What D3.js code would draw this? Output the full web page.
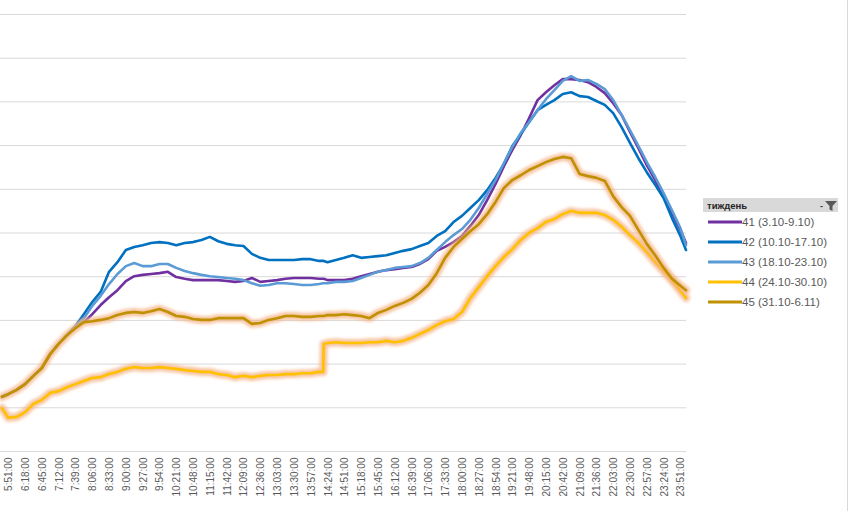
<!DOCTYPE html>
<html>
<head>
<meta charset="utf-8">
<script src="https://cdn.jsdelivr.net/npm/d3@7/dist/d3.min.js"></script>
<style>
  html, body { margin: 0; padding: 0; background: #fff; }
  svg { display: block; }
</style>
</head>
<body>
<svg id="chart" width="852" height="511"></svg>
<script>
// ---------- DATA ----------
const tickLabels = ["5:51:00","6:18:00","6:45:00","7:12:00","7:39:00","8:06:00","8:33:00","9:00:00","9:27:00","9:54:00",
  "10:21:00","10:48:00","11:15:00","11:42:00","12:09:00","12:36:00","13:03:00","13:30:00","13:57:00","14:24:00",
  "14:51:00","15:18:00","15:45:00","16:12:00","16:39:00","17:06:00","17:33:00","18:00:00","18:27:00","18:54:00",
  "19:21:00","19:48:00","20:15:00","20:42:00","21:09:00","21:36:00","22:03:00","22:30:00","22:57:00","23:24:00","23:51:00"];

const sampleTimes = ["5:41:00","5:51:00","6:04:30","6:18:00","6:31:30","6:45:00","6:58:30","7:12:00","7:25:30","7:39:00",
  "7:52:30","8:06:00","8:19:30","8:33:00","8:46:30","9:00:00","9:13:30","9:27:00","9:40:30","9:54:00",
  "10:07:30","10:21:00","10:34:30","10:48:00","11:01:30","11:15:00","11:28:30","11:42:00","11:55:30","12:09:00",
  "12:22:30","12:36:00","12:49:30","13:03:00","13:16:30","13:30:00","13:43:30","13:57:00","14:10:30","14:17:00",
  "14:18:00","14:24:00","14:37:30","14:51:00","15:04:30","15:18:00","15:31:30","15:45:00","15:58:30","16:12:00",
  "16:25:30","16:39:00","16:52:30","17:06:00","17:19:30","17:33:00","17:46:30","18:00:00","18:13:30","18:27:00",
  "18:40:30","18:54:00","19:07:30","19:21:00","19:34:30","19:48:00","20:01:30","20:15:00","20:28:30","20:42:00",
  "20:55:30","21:09:00","21:22:30","21:36:00","21:49:30","22:03:00","22:16:30","22:30:00","22:43:30","22:57:00",
  "23:10:30","23:24:00","23:37:30","23:51:00","24:00:00"];

const seriesNames = ["41 (3.10-9.10)","42 (10.10-17.10)","43 (18.10-23.10)","44 (24.10-30.10)","45 (31.10-6.11)"];

const w41 = [124,130,140,153,172,190,222,245,265,284,295,313,334,352,368,389,400,403,405,407,410,398,394,391,391,391,391,389,387,389,396,387,389,391,394,396,396,396,394,394,394,391,391,391,394,400,405,410,414,416,419,421,428,439,458,467,478,492,515,540,574,611,652,689,723,762,803,821,837,851,851,849,844,833,819,796,769,730,693,654,620,581,545,506,476];
const w42 = [124,130,140,153,172,190,222,245,265,286,313,341,364,410,432,460,467,471,476,478,476,471,476,478,483,490,480,474,471,469,451,442,437,437,437,437,439,439,435,435,435,432,437,442,448,442,444,446,448,453,458,462,469,476,492,503,524,538,556,574,597,625,657,698,725,753,780,792,803,817,821,812,810,801,792,773,741,705,670,638,609,579,533,492,460];
const w43 = [124,130,140,153,172,190,222,245,265,286,304,332,355,382,405,423,430,423,423,428,428,419,412,407,403,400,398,396,394,391,384,378,380,384,384,382,380,380,382,384,384,384,387,387,389,396,403,410,414,419,421,423,430,442,460,478,494,508,529,556,588,620,659,696,728,753,780,805,826,847,858,847,849,840,828,803,769,734,698,661,627,590,551,510,471];
const w44 = [98,76,78,89,108,117,133,137,146,153,160,167,169,176,181,188,192,190,190,192,190,188,185,183,181,181,176,174,169,172,169,172,174,174,176,176,178,178,181,181,245,247,249,247,247,247,249,249,252,249,252,259,268,277,288,297,302,318,350,375,400,423,444,462,483,499,510,524,531,542,549,545,545,545,540,529,513,494,476,455,432,412,391,366,350];
const w45 = [124,130,140,153,172,190,222,245,265,281,295,297,300,304,311,316,318,316,320,325,318,309,307,302,300,300,304,304,304,304,291,293,300,304,309,309,307,307,309,309,309,311,311,313,311,309,304,316,323,332,339,348,362,380,407,442,467,485,503,519,542,570,602,620,631,643,652,661,668,673,670,634,629,625,618,583,558,538,506,474,448,419,394,378,368];

const seriesValues = [w41, w42, w43, w44, w45];
const seriesColors = ["#7030A0","#0070C0","#5B9BD5","#FFC000","#BF9000"];
const seriesGlow = [false, false, false, true, true];
const legendTitle = "тиждень";

// ---------- CHART ----------
const toMin = s => { const p = s.split(":").map(Number); return p[0]*60 + p[1] + (p[2]||0)/60; };

const svg = d3.select("#chart");
const defs = svg.append("defs");
const blur = defs.append("filter").attr("id","glow").attr("x","-5%").attr("y","-5%").attr("width","110%").attr("height","110%");
blur.append("feGaussianBlur").attr("stdDeviation", 1.6);

const x = d3.scaleLinear().domain([toMin("5:41:00"), toMin("24:00:00")]).range([2, 686]);
const y = d3.scaleLinear().domain([0, 1000]).range([451, 14]);

// gridlines
svg.append("g").selectAll("line").data(d3.range(100, 1001, 100)).join("line")
  .attr("x1", 0).attr("x2", 686)
  .attr("y1", d => y(d) + 0.5).attr("y2", d => y(d) + 0.5)
  .attr("stroke", "#D9D9D9").attr("stroke-width", 1);

// x axis
const xAxis = d3.axisBottom(x)
  .tickValues(tickLabels.map(toMin))
  .tickFormat((d, i) => tickLabels[i])
  .tickSize(0).tickPadding(0);
const gx = svg.append("g").attr("transform", `translate(0,${y(0)+0.5})`).call(xAxis);
gx.select(".domain").attr("stroke", "#D9D9D9").attr("d", "M0,0H686");
gx.selectAll("text")
  .attr("transform", "rotate(-90)")
  .attr("x", -6).attr("y", 0).attr("dy", "0.35em")
  .style("text-anchor", "end")
  .attr("fill", "#595959")
  .style("font-family", "'Liberation Sans', Arial, sans-serif")
  .style("font-size", "10px");

// lines
const times = sampleTimes.map(toMin);
const line = d3.line().x((d, i) => x(times[i])).y(d => y(d));
const gl = svg.append("g");
seriesValues.forEach((vals, si) => {
  if (seriesGlow[si]) {
    gl.append("path").attr("d", line(vals))
      .attr("fill", "none").attr("stroke", "#F4B183").attr("stroke-opacity", 0.75)
      .attr("stroke-width", 8).attr("stroke-linejoin", "round").attr("stroke-linecap", "round")
      .attr("filter", "url(#glow)");
  }
  gl.append("path").attr("d", line(vals))
    .attr("fill", "none").attr("stroke", seriesColors[si])
    .attr("stroke-width", 2.6).attr("stroke-linejoin", "round").attr("stroke-linecap", "round");
});

// frame line at right
svg.append("line").attr("x1", 847.5).attr("x2", 847.5).attr("y1", 0).attr("y2", 511)
  .attr("stroke", "#D9D9D9");

// legend
const lg = svg.append("g").attr("transform", "translate(703,198)");
lg.append("rect").attr("x", 0).attr("y", 0).attr("width", 135).attr("height", 14).attr("fill", "#D9D9D9");
lg.append("text").attr("x", 4).attr("y", 10.5).text(legendTitle)
  .attr("fill", "#262626").style("font-family", "'Liberation Sans', Arial, sans-serif")
  .style("font-size", "9.5px").style("font-weight", "bold");
lg.append("text").attr("x", 117).attr("y", 11).text("-")
  .attr("fill", "#404040").style("font-family", "'Liberation Sans', Arial, sans-serif").style("font-size", "9px").style("font-weight","bold");
lg.append("path").attr("d", "M122,3 H134 L129.5,8 V13 L126.5,11.5 V8 Z").attr("fill", "#595959");

const items = lg.selectAll("g.item").data(seriesNames).join("g").attr("class","item")
  .attr("transform", (d, i) => `translate(0,${24 + i * 20})`);
items.append("line").attr("x1", 5).attr("x2", 39).attr("y1", 0).attr("y2", 0)
  .attr("stroke", (d, i) => seriesColors[i]).attr("stroke-width", 3);
items.append("text").attr("x", 39).attr("y", 0).attr("dy", "0.35em").text(d => d)
  .attr("fill", "#595959").style("font-family", "'Liberation Sans', Arial, sans-serif").style("font-size", "11.5px");
</script>
</body>
</html>
